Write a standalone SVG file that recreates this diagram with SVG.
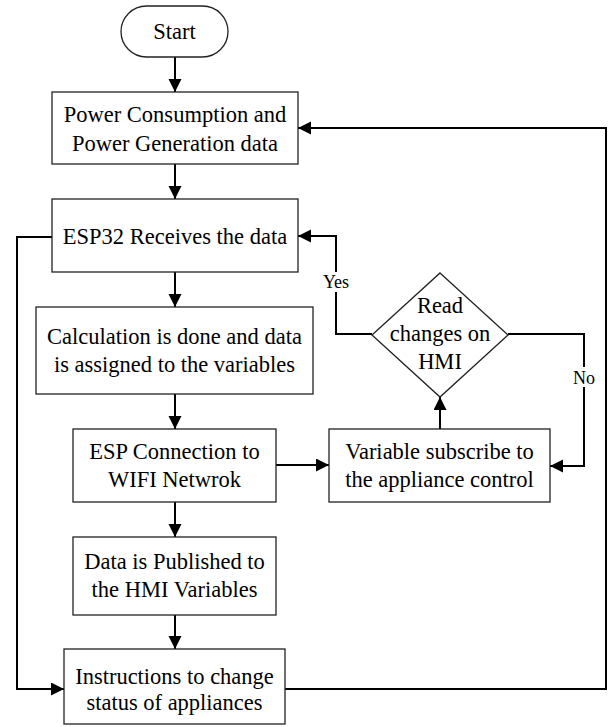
<svg xmlns="http://www.w3.org/2000/svg" width="608" height="727" viewBox="0 0 608 727">
<style>
.box{fill:#fff;stroke:#222;stroke-width:1.3}
.t{font-size:22.5px;fill:#000;text-anchor:middle}
.lbl{font-size:18px;fill:#000;text-anchor:middle}
.c{fill:none;stroke:#000;stroke-width:2}
</style>
<defs>
<marker id="ah" markerUnits="userSpaceOnUse" markerWidth="14" markerHeight="14" refX="13" refY="6.5" orient="auto">
<path d="M0,0 L13,6.5 L0,13 z" fill="#000"/>
</marker>
</defs>
<rect width="608" height="727" fill="#fff"/>
<g font-family="Liberation Serif, Tinos, Times New Roman, DejaVu Serif, serif">
<g id="connectors">
<path class="c" d="M175,57 V92" marker-end="url(#ah)"/>
<path class="c" d="M175,164 V199" marker-end="url(#ah)"/>
<path class="c" d="M175,272 V307" marker-end="url(#ah)"/>
<path class="c" d="M175,394 V429" marker-end="url(#ah)"/>
<path class="c" d="M175,502 V537" marker-end="url(#ah)"/>
<path class="c" d="M175,615 V649" marker-end="url(#ah)"/>
<path class="c" d="M52,237 H17 V689 H64" marker-end="url(#ah)"/>
<path class="c" d="M285,689 H606 V128 H298" marker-end="url(#ah)"/>
<path class="c" d="M276,465 H329" marker-end="url(#ah)"/>
<path class="c" d="M440,429 V397" marker-end="url(#ah)"/>
<path class="c" d="M372,334 H336 V236 H298" marker-end="url(#ah)"/>
<path class="c" d="M508,334 H584 V466 H550" marker-end="url(#ah)"/>
<rect x="322" y="272" width="28" height="20" fill="#fff"/>
<text class="lbl" x="336" y="288">Yes</text>
<rect x="572" y="367" width="24" height="20" fill="#fff"/>
<text class="lbl" x="584" y="384">No</text>
</g>
<g id="start">
<rect class="box" x="121" y="6" width="107" height="51" rx="25.5"/>
<text class="t" x="174.5" y="39">Start</text>
</g>
<g id="power-data">
<rect class="box" x="52" y="92" width="246" height="72"/>
<text class="t" x="175" y="122">Power Consumption and</text>
<text class="t" x="175" y="151">Power Generation data</text>
</g>
<g id="esp32-receives">
<rect class="box" x="52" y="199" width="246" height="73"/>
<text class="t" x="175" y="244">ESP32 Receives the data</text>
</g>
<g id="calculation">
<rect class="box" x="36" y="307" width="277" height="87"/>
<text class="t" x="174.5" y="344">Calculation is done and data</text>
<text class="t" x="174.5" y="372">is assigned to the variables</text>
</g>
<g id="esp-wifi">
<rect class="box" x="73" y="429" width="203" height="73"/>
<text class="t" x="174.5" y="459">ESP Connection to</text>
<text class="t" x="174.5" y="487">WIFI Netwrok</text>
</g>
<g id="data-published">
<rect class="box" x="73" y="537" width="203" height="78"/>
<text class="t" x="174.5" y="569">Data is Published to</text>
<text class="t" x="174.5" y="597">the HMI Variables</text>
</g>
<g id="instructions">
<rect class="box" x="64" y="649" width="221" height="75"/>
<text class="t" x="174.5" y="684">Instructions to change</text>
<text class="t" x="174.5" y="710">status of appliances</text>
</g>
<g id="variable-subscribe">
<rect class="box" x="329" y="429" width="221" height="73"/>
<text class="t" x="439.5" y="459">Variable subscribe to</text>
<text class="t" x="439.5" y="487">the appliance control</text>
</g>
<g id="read-changes">
<polygon class="box" points="440,273 508,335 440,397 372,335"/>
<text class="t" x="440" y="313">Read</text>
<text class="t" x="440" y="341">changes on</text>
<text class="t" x="440" y="369">HMI</text>
</g>
</g>
</svg>
